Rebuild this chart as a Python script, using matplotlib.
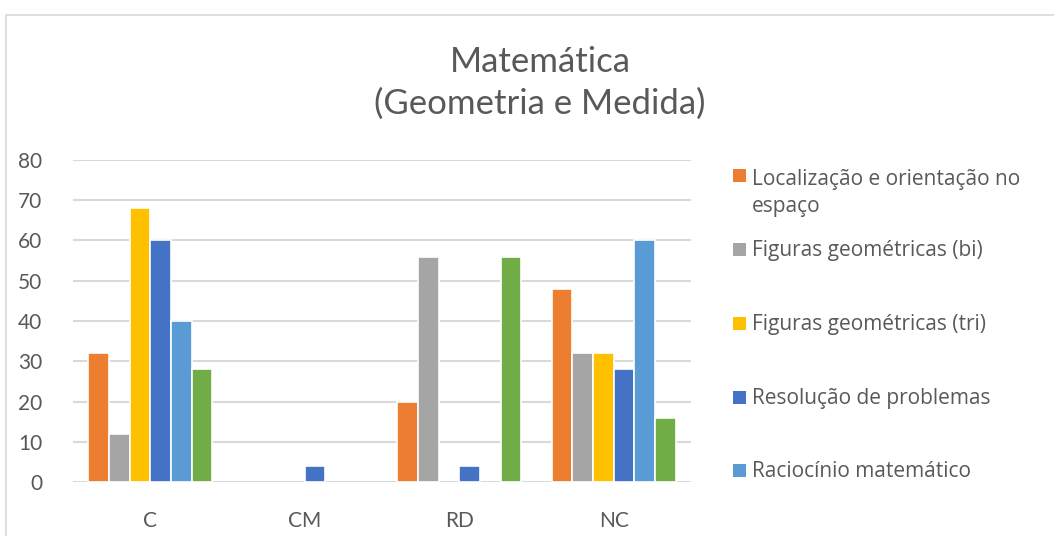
import matplotlib
matplotlib.use("Agg")
import matplotlib.pyplot as plt
from matplotlib.patches import Rectangle
import numpy as np

categories = ["C", "CM", "RD", "NC"]
series_names = [
    "Localização e orientação no\nespaço",
    "Figuras geométricas (bi)",
    "Figuras geométricas (tri)",
    "Resolução de problemas",
    "Raciocínio matemático",
    "",  # legend entry cut off in the reference
]
localizacao = [32, 0, 20, 48]
figuras_bi = [12, 0, 56, 32]
figuras_tri = [68, 0, 0, 32]
resolucao = [60, 4, 4, 28]
raciocinio = [40, 0, 0, 60]
sexta_serie = [28, 0, 56, 16]
series_values = [localizacao, figuras_bi, figuras_tri, resolucao, raciocinio, sexta_serie]
colors = ["#ED7D31", "#A5A5A5", "#FFC000", "#4472C4", "#5B9BD5", "#70AD47"]
yticks = [0, 10, 20, 30, 40, 50, 60, 70, 80]

W, H = 1054, 536
fig = plt.figure(figsize=(W / 100, H / 100), dpi=100)
fig.patch.set_facecolor("white")

# outer chart border (cut at right and bottom in the reference)
fig.patches.append(Rectangle((6 / W, -0.1), 1.2, 1 - 15 / H + 0.1,
                             transform=fig.transFigure, fill=False,
                             edgecolor="#D9D9D9", lw=1.2))

ax = fig.add_axes([73 / W, 1 - 482 / H, (691 - 73) / W, (482 - 160) / H])
x = np.arange(len(categories))
n = len(series_values)
bw = 0.134
for i, (vals, col) in enumerate(zip(series_values, colors)):
    offs = (i - (n - 1) / 2) * bw
    edges = ["white" if v > 0 else "none" for v in vals]
    ax.bar(x + offs, vals, width=bw, color=col, edgecolor=edges, linewidth=1.2, zorder=3)

ax.set_xlim(-0.5, len(categories) - 0.5)
ax.set_ylim(0, 80)
ax.set_yticks(yticks)
ax.set_xticks(x)
ax.set_xticklabels(categories)
for s in ax.spines.values():
    s.set_visible(False)
ax.yaxis.grid(True, color="#D9D9D9", lw=1.5, zorder=0)
ax.tick_params(axis="both", length=0, colors="#595959", labelsize=15)
ax.tick_params(axis="y", pad=22)
ax.tick_params(axis="x", pad=21)
for lab in ax.get_xticklabels() + ax.get_yticklabels():
    lab.set_fontfamily("Lato")

fig.text(540 / W, 1 - 83 / H, "Matemática\n(Geometria e Medida)", ha="center", va="center",
         fontsize=25, color="#595959", family="Lato", linespacing=1.38)

# legend (only the visible entries)
leg_y = [175, 249, 323, 397, 470]
line_px = 30
for name, col, yy in zip(series_names[:5], colors[:5], leg_y):
    fig.patches.append(Rectangle((733 / W, 1 - (yy + 6.5) / H), 13 / W, 13 / H,
                                 transform=fig.transFigure, facecolor=col, edgecolor="none"))
    extra = line_px * (name.count("\n"))
    fig.text(752 / W, 1 - (yy + 7 + extra) / H, name, ha="left", va="baseline", fontsize=15,
             color="#595959", family="Open Sans", linespacing=1.4)

fig.savefig("out.png", dpi=100)
